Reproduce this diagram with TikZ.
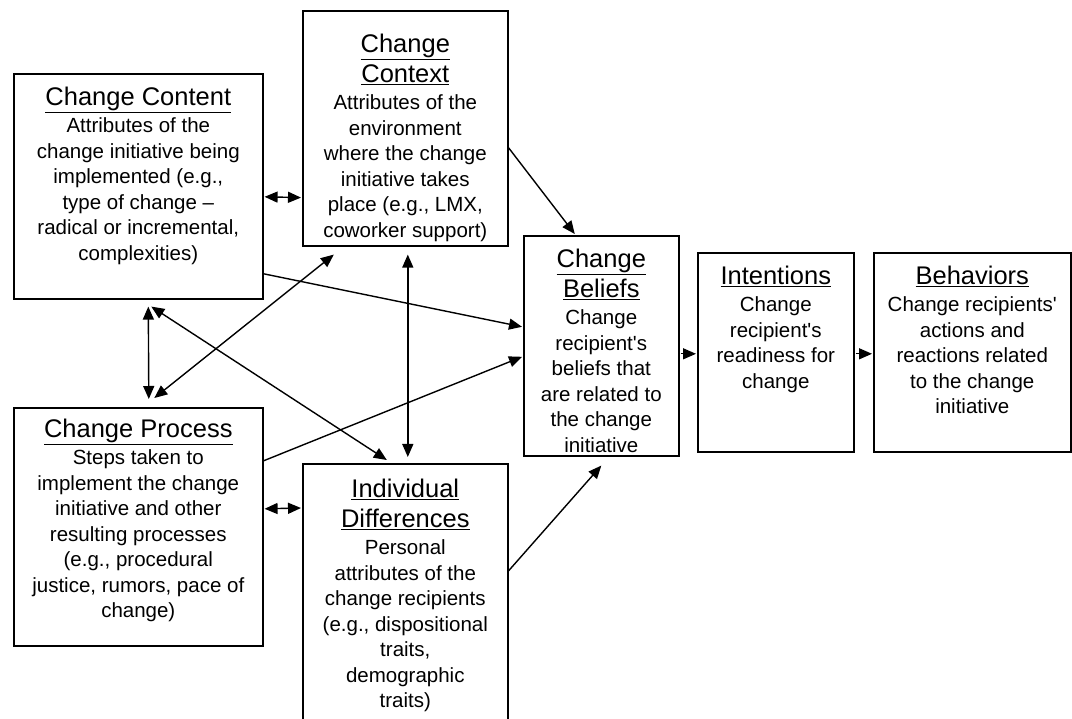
\documentclass[tikz,border=0pt]{standalone}
\usepackage{fontspec}
\setmainfont{Liberation Sans}
\usetikzlibrary{arrows.meta,calc}
% underlined heading line; smashed so the rule does not push lines apart
\newcommand\ttl[1]{{\fontsize{25.5}{30}\selectfont\smash{\underline{#1}}\vphantom{hg}}}
\newcommand\apos{\textquotesingle}
\begin{document}
\begin{tikzpicture}[x=1pt,y=-1pt,
  box/.style={draw, line width=1.6pt, rectangle, inner sep=0pt, anchor=north west},
  txt/.style={anchor=north, align=center, inner sep=0pt,
              font=\fontsize{20.5}{25.5}\selectfont},
  arr/.style={line width=1.4pt, -{Triangle[length=13pt,width=11pt]}},
  dbl/.style={line width=1.4pt, {Triangle[length=13pt,width=11pt]}-{Triangle[length=13pt,width=11pt]}}]
\clip (0,0) rectangle (1072,719);
\fill[white] (0,0) rectangle (1072,719);

% boxes
\node[box, minimum width=249pt, minimum height=225pt] (content) at (13,73) {};
\node[box, minimum width=205pt, minimum height=235pt] (context) at (302,10) {};
\node[box, minimum width=249pt, minimum height=238pt] (process) at (13,407) {};
\node[box, minimum width=205pt, minimum height=267pt] (indiv) at (302,463) {};
\node[box, minimum width=155pt, minimum height=220pt] (beliefs) at (523,235) {};
\node[box, minimum width=156pt, minimum height=199pt] (intent) at (697,252) {};
\node[box, minimum width=197pt, minimum height=199pt] (behav) at (873,252) {};

% box texts
\node[txt] (contentTxt) at ($(content.north)+(0,14)$)
  {\ttl{Change Content}\\[1.5pt]
   Attributes of the\\ change initiative being\\ implemented (e.g.,\\
   type of change --\\ radical or incremental,\\ complexities)};
\node[txt] (contextTxt) at ($(context.north)+(0,24)$)
  {\ttl{Change}\\[4.5pt]\ttl{Context}\\[1.5pt]
   Attributes of the\\ environment\\ where the change\\ initiative takes\\
   place (e.g., LMX,\\ coworker support)};
\node[txt] (processTxt) at ($(process.north)+(0,12)$)
  {\ttl{Change Process}\\[1.5pt]
   Steps taken to\\ implement the change\\ initiative and other\\
   resulting processes\\ (e.g., procedural\\ justice, rumors, pace of\\ change)};
\node[txt] (indivTxt) at ($(indiv.north)+(0,16)$)
  {\ttl{Individual}\\[4.5pt]\ttl{Differences}\\[1.5pt]
   Personal\\ attributes of the\\ change recipients\\ (e.g., dispositional\\
   traits,\\ demographic\\ traits)};
\node[txt] (beliefsTxt) at ($(beliefs.north)+(0,14)$)
  {\ttl{Change}\\[4.5pt]\ttl{Beliefs}\\[1.5pt]
   Change\\ recipient\apos s\\ beliefs that\\ are related to\\ the change\\ initiative};
\node[txt] (intentTxt) at ($(intent.north)+(0,14)$)
  {\ttl{Intentions}\\[1.5pt]
   Change\\ recipient\apos s\\ readiness for\\ change};
\node[txt] (behavTxt) at ($(behav.north)+(0,14)$)
  {\ttl{Behaviors}\\[1.5pt]
   Change recipients\apos\\ actions and\\ reactions related\\ to the change\\ initiative};

% two-way links among the antecedents
\draw[dbl] ($(content.east)+(1,10.5)$) -- ($(context.south west)+(-1,-49)$);
\draw[dbl] ($(process.east)+(1,-18)$) -- ($(indiv.north west)+(-1,45)$);
\draw[dbl] ($(content.south)+(10,7)$) -- ($(process.north)+(10.5,-8)$);
\draw[dbl] ($(content.south)+(13,7)$) -- ($(indiv.north)+(-18.5,-3)$);
\draw[dbl] ($(process.north)+(16,-9)$) -- ($(context.south)+(-71.5,8)$);
\draw[dbl] ($(context.south)+(2.5,8)$) -- ($(indiv.north)+(2.5,-6)$);

% antecedents feeding change beliefs
\draw[arr] ($(content.east)+(0,87.5)$) -- ($(beliefs.west)+(-1,-19)$);
\draw[arr] ($(process.east)+(0,-66)$) -- ($(beliefs.west)+(-1,11)$);
\draw[arr] ($(indiv.east)+(0,-26.5)$) -- ($(beliefs.south)+(0,9)$);
\draw[arr] ($(context.east)+(0,19.5)$) -- ($(beliefs.north)+(-26.5,-1)$);

% beliefs -> intentions -> behaviors
\draw[arr] ($(beliefs.east)+(1,8)$) -- ($(intent.west)+(-1,1.5)$);
\draw[arr] ($(intent.east)+(1,1.5)$) -- ($(behav.west)+(-1,1.5)$);
\end{tikzpicture}
\end{document}
